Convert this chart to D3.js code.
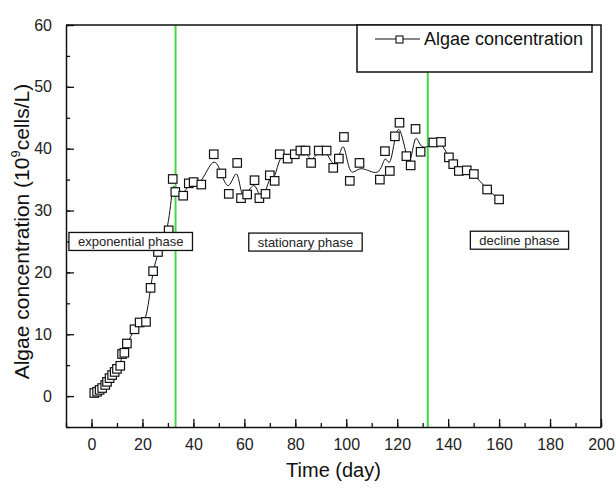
<!DOCTYPE html>
<html>
<head>
<meta charset="utf-8">
<script src="https://cdn.jsdelivr.net/npm/d3@7"></script>
<style>
  body { margin: 0; background: #fff; }
  svg { display: block; font-family: 'Liberation Sans', Arial, sans-serif; }
</style>
</head>
<body>
<svg id="chart" width="616" height="488"></svg>
<script>
// data
const days = [1.1, 2.2, 3.2, 4.2, 5.4, 6.1, 7.1, 8.1, 9.1, 10, 11.3, 12, 12.9, 13.9, 16.9, 18.9, 21.4, 23.2, 24.2, 26.1, 30.3, 31.9, 32.9, 36, 38.2, 40.1, 43.1, 48, 51, 53.9, 57.2, 58.7, 61.1, 64, 65.9, 68.3, 70, 71.9, 73.9, 77, 79.8, 82, 84, 86.2, 89.2, 92.3, 94.9, 97.1, 99.1, 101.4, 105.2, 113.2, 115.2, 117.1, 119.1, 120.9, 123.6, 125.3, 127.2, 129.2, 134.2, 137.2, 140.3, 142, 144.2, 147.3, 150.1, 155.3, 160]
const concentration = [0.5, 0.7, 1.0, 1.3, 1.8, 2.3, 2.9, 3.4, 3.9, 4.4, 4.9, 6.8, 7.0, 8.5, 10.8, 11.9, 12.0, 17.5, 20.2, 23.3, 26.8, 35.1, 33.0, 32.4, 34.4, 34.6, 34.2, 39.1, 36.0, 32.7, 37.7, 32.0, 32.6, 34.9, 32.0, 32.7, 35.7, 34.8, 39.1, 38.4, 39.1, 39.7, 39.7, 37.7, 39.7, 39.7, 36.9, 38.4, 41.9, 34.8, 37.7, 35.0, 39.6, 36.4, 42.0, 44.2, 38.8, 37.3, 43.2, 39.5, 41.0, 41.1, 38.6, 37.5, 36.4, 36.5, 35.9, 33.4, 31.8]

const phaseBoundaries = [33, 132]
const phaseNames = ['exponential phase', 'stationary phase', 'decline phase']
const phaseLabelX = [15.4, 84, 168]
const phaseLabelY = [25, 24.9, 25.2]

const xTicks = [0, 20, 40, 60, 80, 100, 120, 140, 160, 180, 200]
const yTicks = [0, 10, 20, 30, 40, 50, 60]

const width = 616
const height = 488
const margin = { top: 25, right: 15, bottom: 61, left: 66 }

const svg = d3.select('#chart')

const x = d3.scaleLinear([-10, 200], [margin.left, width - margin.right])
const y = d3.scaleLinear([-5, 60], [height - margin.bottom, margin.top])

const points = days.map((d, i) => ({ day: d, value: concentration[i] }))

// phase boundaries
svg
  .append('g')
  .attr('id', 'boundaries')
  .selectAll('line')
  .data(phaseBoundaries)
  .join('line')
  .attr('x1', (d) => x(d))
  .attr('x2', (d) => x(d))
  .attr('y1', y(60))
  .attr('y2', y(-5))
  .attr('stroke', '#44d844')
  .attr('stroke-width', 2)

// axes, ticks inward
const xMinor = d3.range(-10, 201, 10)
const yMinor = d3.range(-5, 61, 5)

const xAxis = svg
  .append('g')
  .attr('transform', `translate(0,${height - margin.bottom})`)
  .call(
    d3.axisBottom(x).tickValues(xMinor).tickSize(-4).tickFormat('').tickSizeOuter(0)
  )
xAxis
  .append('g')
  .call(
    d3.axisBottom(x).tickValues(xTicks).tickSize(-8).tickSizeOuter(0).tickPadding(12)
  )
  .call((g) => g.select('.domain').remove())

const yAxis = svg
  .append('g')
  .attr('transform', `translate(${margin.left},0)`)
  .call(
    d3.axisLeft(y).tickValues(yMinor).tickSize(-4).tickFormat('').tickSizeOuter(0)
  )
yAxis
  .append('g')
  .call(
    d3.axisLeft(y).tickValues(yTicks).tickSize(-8).tickSizeOuter(0).tickPadding(14)
  )
  .call((g) => g.select('.domain').remove())

svg.selectAll('.tick line').attr('stroke', '#111').attr('stroke-width', 1.3)
svg.selectAll('.domain').attr('stroke', '#111').attr('stroke-width', 1.5)
svg
  .selectAll('.tick text')
  .attr('font-size', 16)
  .attr('fill', '#222')
  .attr('font-family', "'Liberation Sans', Arial, sans-serif")

// top and right frame
svg
  .append('path')
  .attr('d', `M${x(-10)},${y(60)}H${x(200)}V${y(-5)}`)
  .attr('fill', 'none')
  .attr('stroke', '#111')
  .attr('stroke-width', 1.5)

// smoothed line
const line = d3
  .line()
  .x((d) => x(d.day))
  .y((d) => y(d.value))
  .curve(d3.curveBasis)

svg
  .append('path')
  .datum(points)
  .attr('d', line)
  .attr('fill', 'none')
  .attr('stroke', '#111')
  .attr('stroke-width', 1)

// square markers
const sq = 8.5
svg
  .append('g')
  .attr('id', 'markers')
  .selectAll('rect')
  .data(points)
  .join('rect')
  .attr('x', (d) => x(d.day) - sq / 2)
  .attr('y', (d) => y(d.value) - sq / 2)
  .attr('width', sq)
  .attr('height', sq)
  .attr('fill', '#fff')
  .attr('stroke', '#111')
  .attr('stroke-width', 1.2)

// phase labels in boxes
const phaseLayer = svg
  .append('g')
  .attr('id', 'phases')
  .selectAll('g')
  .data(phaseNames)
  .join('g')
  .attr('transform', (d, i) => `translate(${x(phaseLabelX[i])},${y(phaseLabelY[i])})`)

phaseLayer
  .append('text')
  .text((d) => d)
  .attr('text-anchor', 'middle')
  .attr('dy', '0.35em')
  .attr('font-size', 13)
  .attr('fill', '#222')

phaseLayer.each(function () {
  const g = d3.select(this)
  const b = g.select('text').node().getBBox()
  g.insert('rect', 'text')
    .attr('x', b.x - 9)
    .attr('y', -9)
    .attr('width', b.width + 18)
    .attr('height', 18)
    .attr('fill', '#fff')
    .attr('stroke', '#111')
    .attr('stroke-width', 1.3)
})

// legend
const legend = svg.append('g').attr('id', 'legend')
legend
  .append('rect')
  .attr('x', 357)
  .attr('y', 25)
  .attr('width', 235)
  .attr('height', 47)
  .attr('fill', '#fff')
  .attr('stroke', '#111')
  .attr('stroke-width', 1.5)
legend
  .append('line')
  .attr('x1', 375)
  .attr('x2', 420)
  .attr('y1', 39)
  .attr('y2', 39)
  .attr('stroke', '#111')
  .attr('stroke-width', 1.2)
legend
  .append('rect')
  .attr('x', 396)
  .attr('y', 36)
  .attr('width', 7)
  .attr('height', 7)
  .attr('fill', '#fff')
  .attr('stroke', '#111')
  .attr('stroke-width', 1.1)
legend
  .append('text')
  .attr('x', 424)
  .attr('y', 45)
  .attr('font-size', 18)
  .attr('fill', '#111')
  .text('Algae concentration')

// axis titles
svg
  .append('text')
  .attr('x', x(95))
  .attr('y', 477)
  .attr('text-anchor', 'middle')
  .attr('font-size', 20)
  .attr('fill', '#111')
  .text('Time (day)')

const yTitle = svg
  .append('text')
  .attr('transform', `translate(29,${y(26.6)}) rotate(-90)`)
  .attr('text-anchor', 'middle')
  .attr('font-size', 21)
  .attr('fill', '#111')
yTitle.append('tspan').text('Algae concentration (10')
yTitle.append('tspan').attr('font-size', 13).attr('dy', -9).text('9')
yTitle.append('tspan').attr('dy', 9).text('cells/L)')
</script>
</body>
</html>
